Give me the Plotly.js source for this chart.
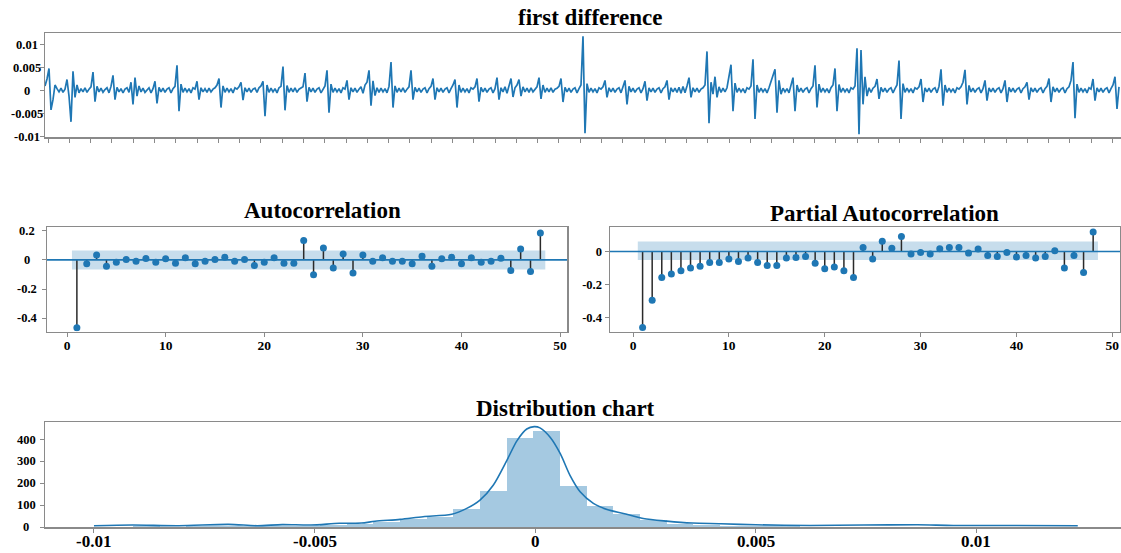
<!DOCTYPE html>
<html>
<head>
<meta charset="utf-8">
<script src="https://cdn.plot.ly/plotly-3.0.1.min.js"></script>
<style>html,body{margin:0;padding:0;background:#fff;}#chart{width:1121px;height:553px;}</style>
</head>
<body>
<div id="chart"></div>
<script>
// ---------- DATA ----------
// first difference series, values in units of 1e-4
const diffValuesE4 = [
10,25,48,-42,-20,12,4,-3,
5,-4,3,24,-12,-68,42,-15,12,-5,4,
-3,6,-4,3,8,40,-24,9,-3,5,-4,
2,6,-5,9,33,-20,7,-3,4,-5,3,
6,-4,18,-30,28,-12,10,-3,5,-4,2,6,-5,
4,20,-28,7,-3,5,-4,3,6,-5,4,9,
55,-45,14,-4,5,-3,4,-5,6,3,
20,-20,6,-3,4,-4,5,-3,3,6,12,
26,-37,10,-4,5,-3,4,-5,6,3,8,
18,-21,6,-3,5,-4,3,5,-4,6,10,
20,-56,12,-4,5,-3,4,-5,6,9,
52,-43,11,-4,5,-3,6,-4,3,5,8,
38,-24,7,-3,5,-4,3,6,-5,4,10,
44,-48,14,-4,5,-3,4,-5,6,3,
22,-20,6,-3,5,-4,3,8,-6,12,18,
44,-33,21,-11,6,-4,5,-3,4,-5,9,
62,-37,10,-4,5,-3,6,-4,3,8,
44,-20,7,-3,5,-4,3,6,-5,4,9,
26,-20,6,-3,5,-4,3,6,-5,4,12,
24,-37,12,-4,5,-3,4,-5,6,3,8,
26,-24,7,-3,5,-4,3,6,-5,4,
28,-20,6,-3,8,-6,10,26,-14,6,12,
24,-12,8,-3,5,-4,6,-3,4,8,
28,-18,12,-4,5,-3,6,-4,3,5,9,
26,-25,7,-3,5,-4,3,6,-5,4,12,
118,-93,15,-4,5,-3,4,-5,6,3,8,
22,-15,6,-3,5,-4,3,6,-5,8,
22,-30,9,-3,5,-4,3,6,-5,4,
20,-22,6,-3,5,-4,3,6,-5,4,8,
22,-20,6,-3,5,-4,7,-6,9,-5,10,
28,-15,6,-3,5,-4,3,6,12,
85,-71,18,-8,30,-15,8,-4,5,-3,6,30,
56,-45,16,-4,5,-3,4,-5,6,3,10,
68,-62,12,-4,5,-3,4,-5,6,18,30,
46,-48,22,-8,5,-3,4,-5,9,
28,-45,12,-3,5,-4,3,6,-5,4,10,
55,-37,14,-4,5,-3,4,-5,6,12,
48,-45,13,-4,5,-3,4,-5,6,3,10,
92,-95,88,-30,30,-12,6,-4,5,9,
25,-18,7,-3,5,-4,3,6,-5,4,12,
65,-62,15,-4,5,-3,4,-5,6,3,8,
25,-25,6,-3,5,-4,3,6,-5,9,
46,-33,12,-4,5,-3,4,-5,6,3,8,18,
45,-30,11,-3,5,-4,3,6,-5,4,
22,-22,6,-3,5,-4,3,6,-5,4,
22,-25,7,-3,5,-4,3,6,-5,4,8,
18,-20,6,-3,5,-4,3,6,-5,4,9,
26,-25,8,-3,5,-4,3,6,-5,4,8,22,
62,-60,14,-4,5,-3,4,-5,6,3,
25,-22,6,-3,5,-4,3,6,-5,4,12,
30,-40,8
];
const diffUnit = 1e-4;
const diffTickVals = [0.01, 0.005, 0, -0.005, -0.01];
const diffTickText = ['0.01', '0.005', '0', '-0.005', '-0.01'];

const lags = [1,2,3,4,5,6,7,8,9,10,11,12,13,14,15,16,17,18,19,20,21,22,23,24,
              25,26,27,28,29,30,31,32,33,34,35,36,37,38,39,40,41,42,43,44,45,46,47,48];
const acfValues = [-0.464,-0.027,0.034,-0.043,-0.016,0.002,-0.009,0.009,-0.016,0.007,
  -0.023,0.014,-0.027,-0.009,0.002,0.018,-0.009,0.002,-0.039,-0.016,
  0.014,-0.023,-0.023,0.132,-0.102,0.082,-0.055,0.041,-0.089,0.034,
  -0.009,0.014,-0.009,-0.009,-0.027,0.025,-0.043,0.007,0.018,-0.027,
  0.014,-0.016,-0.009,0.011,-0.073,0.075,-0.080,0.184];
const acfBandUpper = 0.064;
const acfBandLower = -0.066;
const pacfValues = [-0.461,-0.295,-0.158,-0.137,-0.117,-0.101,-0.089,-0.067,-0.067,-0.046,
  -0.061,-0.040,-0.067,-0.085,-0.085,-0.040,-0.036,-0.030,-0.071,-0.105,
  -0.095,-0.117,-0.158,0.024,-0.046,0.061,0.020,0.091,-0.016,-0.006,
  -0.016,0.016,0.024,0.024,-0.010,0.014,-0.024,-0.030,-0.006,-0.034,
  -0.024,-0.040,-0.030,0.004,-0.101,-0.024,-0.127,0.117];
const pacfBandUpper = 0.060;
const pacfBandLower = -0.052;
const acfTickVals = [0.2, 0, -0.2, -0.4];
const acfTickText = ['0.2', '0', '-0.2', '-0.4'];
const pacfTickVals = [0, -0.2, -0.4];
const pacfTickText = ['0', '-0.2', '-0.4'];
const lagTickVals = [0, 10, 20, 30, 40, 50];

const histCenters = [-0.010023,-0.009418,-0.008813,-0.008208,-0.007603,-0.006998,-0.006393,
  -0.005788,-0.005183,-0.004578,-0.003973,-0.003368,-0.002763,-0.002158,-0.001553,-0.000948,
  -0.000343,0.000262,0.000867,0.001472,0.002077,0.002682,0.003287,0.003892,0.004497,
  0.005102,0.005707,0.006312,0.006917,0.007522,0.008127,0.008732,0.009337,0.009942,
  0.010547,0.011152,0.011757];
const histCounts = [1,2,3,2,3,4,4,5,6,10,16,22,38,48,83,165,405,440,189,94,60,33,14,8,5,4,3,2,2,2,1,2,1,1,1,1,1];
const histBinWidth = 0.000605;
const kdeX = [-0.0100,-0.00913,-0.00808,-0.00695,-0.0063,-0.00573,-0.00508,-0.00444,-0.00394,-0.00363,
  -0.00306,-0.00254,-0.00189,-0.00155,-0.00125,-0.00095,-0.00064,-0.00041,-0.00019,-0.00002,
  0.00011,0.00034,0.00057,0.00079,0.00102,0.00132,0.00163,0.0020,0.00245,0.00298,
  0.00356,0.00421,0.0050,0.00623,0.00745,0.00866,0.00948,0.01068,0.0123];
const kdeY = [6,9,6,12,6,11,9,17,18,26,35,47,58,85,123,191,305,395,448,459,
  453,410,335,236,161,108,80,62,39,27,18,15,10,7,9,10,7,7,6];
const distTickVals = [0, 100, 200, 300, 400];
const distTickText = ['0', '100', '200', '300', '400'];
const distXTickVals = [-0.01, -0.005, 0, 0.005, 0.01];
const distXTickText = ['-0.01', '-0.005', '0', '0.005', '0.01'];

// ---------- STYLE ----------
const W = 1121, H = 553;
const px = v => v / W;
const py = v => 1 - v / H;
const BLUE = '#1f77b4';
const FRAME = '#8a8a8a';
const SERIF = 'Liberation Serif, Times New Roman, serif';
const tickFont = s => ({family: SERIF, size: s, color: '#000', weight: 'bold'});

const diffValues = diffValuesE4.map(v => v * diffUnit);

function stemArrays(xs, ys) {
  const sx = [], sy = [];
  xs.forEach((x, i) => { sx.push(x, x, null); sy.push(0, ys[i], null); });
  return {sx, sy};
}
const acfStem = stemArrays(lags, acfValues);
const pacfStem = stemArrays(lags, pacfValues);
const bandX0 = lags[0] - 0.5, bandX1 = lags[lags.length - 1] + 0.5;

const traces = [
  {type: 'scatter', mode: 'lines', y: diffValues, xaxis: 'x', yaxis: 'y',
   line: {color: BLUE, width: 1.7}, hoverinfo: 'skip'},
  // ACF
  {type: 'scatter', mode: 'lines', x: [bandX0, bandX1, bandX1, bandX0], y: [acfBandLower, acfBandLower, acfBandUpper, acfBandUpper],
   fill: 'toself', fillcolor: 'rgba(31,119,180,0.25)', line: {width: 0}, xaxis: 'x2', yaxis: 'y2', hoverinfo: 'skip'},
  {type: 'scatter', mode: 'lines', x: acfStem.sx, y: acfStem.sy, xaxis: 'x2', yaxis: 'y2',
   line: {color: '#2a2a2a', width: 1.5}, connectgaps: false, hoverinfo: 'skip'},
  {type: 'scatter', mode: 'markers', x: lags, y: acfValues, xaxis: 'x2', yaxis: 'y2',
   marker: {color: BLUE, size: 7}},
  // PACF
  {type: 'scatter', mode: 'lines', x: [bandX0, bandX1, bandX1, bandX0], y: [pacfBandLower, pacfBandLower, pacfBandUpper, pacfBandUpper],
   fill: 'toself', fillcolor: 'rgba(31,119,180,0.25)', line: {width: 0}, xaxis: 'x3', yaxis: 'y3', hoverinfo: 'skip'},
  {type: 'scatter', mode: 'lines', x: pacfStem.sx, y: pacfStem.sy, xaxis: 'x3', yaxis: 'y3',
   line: {color: '#2a2a2a', width: 1.5}, connectgaps: false, hoverinfo: 'skip'},
  {type: 'scatter', mode: 'markers', x: lags, y: pacfValues, xaxis: 'x3', yaxis: 'y3',
   marker: {color: BLUE, size: 7}},
  // Distribution
  {type: 'bar', x: histCenters, y: histCounts, width: histBinWidth, xaxis: 'x4', yaxis: 'y4',
   marker: {color: 'rgba(31,119,180,0.4)', line: {width: 0}}},
  {type: 'scatter', mode: 'lines', x: kdeX, y: kdeY, xaxis: 'x4', yaxis: 'y4',
   line: {color: BLUE, width: 1.6, shape: 'spline', smoothing: 0.8}}
];

const baseAxis = {showgrid: false, zeroline: false, showline: true, linecolor: FRAME, linewidth: 1.5,
  ticks: 'outside', ticklen: 4, tickwidth: 1, tickcolor: FRAME, fixedrange: true};

const layout = {
  width: W, height: H, margin: {l: 0, r: 0, t: 0, b: 0},
  paper_bgcolor: '#fff', plot_bgcolor: '#fff', showlegend: false, bargap: 0,
  xaxis: Object.assign({}, baseAxis, {domain: [px(45), 1], anchor: 'y', range: [0, 538], mirror: true,
    tick0: 1.5, dtick: 10.645, showticklabels: false}),
  yaxis: Object.assign({}, baseAxis, {domain: [py(137), py(33)], anchor: 'x', range: [-0.0101, 0.0125],
    tickvals: diffTickVals, showticklabels: false}),
  xaxis2: Object.assign({}, baseAxis, {domain: [px(47), px(567)], anchor: 'y2', range: [-2.03, 50.7], mirror: true,
    tickvals: lagTickVals, tickfont: tickFont(13.5), ticklabelstandoff: -3}),
  yaxis2: Object.assign({}, baseAxis, {domain: [py(331.5), py(227)], anchor: 'x2', range: [-0.49, 0.225], mirror: true,
    tickvals: acfTickVals, showticklabels: false}),
  xaxis3: Object.assign({}, baseAxis, {domain: [px(610), px(1120)], anchor: 'y3', range: [-2.4, 50.8], mirror: true,
    tickvals: lagTickVals, tickfont: tickFont(13.5), ticklabelstandoff: -3}),
  yaxis3: Object.assign({}, baseAxis, {domain: [py(331.5), py(227)], anchor: 'x3', range: [-0.485, 0.148], mirror: true,
    tickvals: pacfTickVals, ticktext: pacfTickText, tickfont: tickFont(12.5)}),
  xaxis4: Object.assign({}, baseAxis, {domain: [px(45), 1], anchor: 'y4', range: [-0.01111, 0.01328], mirror: true,
    tickvals: distXTickVals, showticklabels: false}),
  yaxis4: Object.assign({}, baseAxis, {domain: [py(527), py(422)], anchor: 'x4', range: [0, 480],
    tickvals: distTickVals, showticklabels: false}),
  shapes: [
    {type: 'line', xref: 'x2 domain', yref: 'y2', x0: 0, x1: 1, y0: 0, y1: 0, layer: 'above',
     line: {color: BLUE, width: 1.6}},
    {type: 'line', xref: 'x3 domain', yref: 'y3', x0: 0, x1: 1, y0: 0, y1: 0, layer: 'above',
     line: {color: BLUE, width: 1.6}}
  ],
  annotations: []
};

function title(text, x, y) {
  layout.annotations.push({text: text, xref: 'paper', yref: 'paper', x: px(x), y: py(y),
    xanchor: 'center', yanchor: 'middle', showarrow: false,
    font: {family: SERIF, size: 23, color: '#000', weight: 'bold'}});
}
title('first difference', 590, 17);
title('Autocorrelation', 322, 210);
title('Partial Autocorrelation', 884, 214);
title('Distribution chart', 565, 408);

function yLabels(vals, texts, yref, xCenter) {
  vals.forEach((v, i) => layout.annotations.push({text: texts[i], xref: 'paper', yref: yref,
    x: px(xCenter), y: v, xanchor: 'center', yanchor: 'middle', showarrow: false,
    font: tickFont(12.5)}));
}
yLabels(diffTickVals, diffTickText, 'y', 27);
yLabels(acfTickVals, acfTickText, 'y2', 27);
yLabels(distTickVals, distTickText, 'y4', 26);

distXTickVals.forEach((v, i) => layout.annotations.push({text: distXTickText[i], xref: 'x4', yref: 'paper',
  x: v, y: py(541), xanchor: 'center', yanchor: 'middle', showarrow: false, font: tickFont(17)}));

Plotly.newPlot('chart', traces, layout, {displayModeBar: false, staticPlot: true});
</script>
</body>
</html>
